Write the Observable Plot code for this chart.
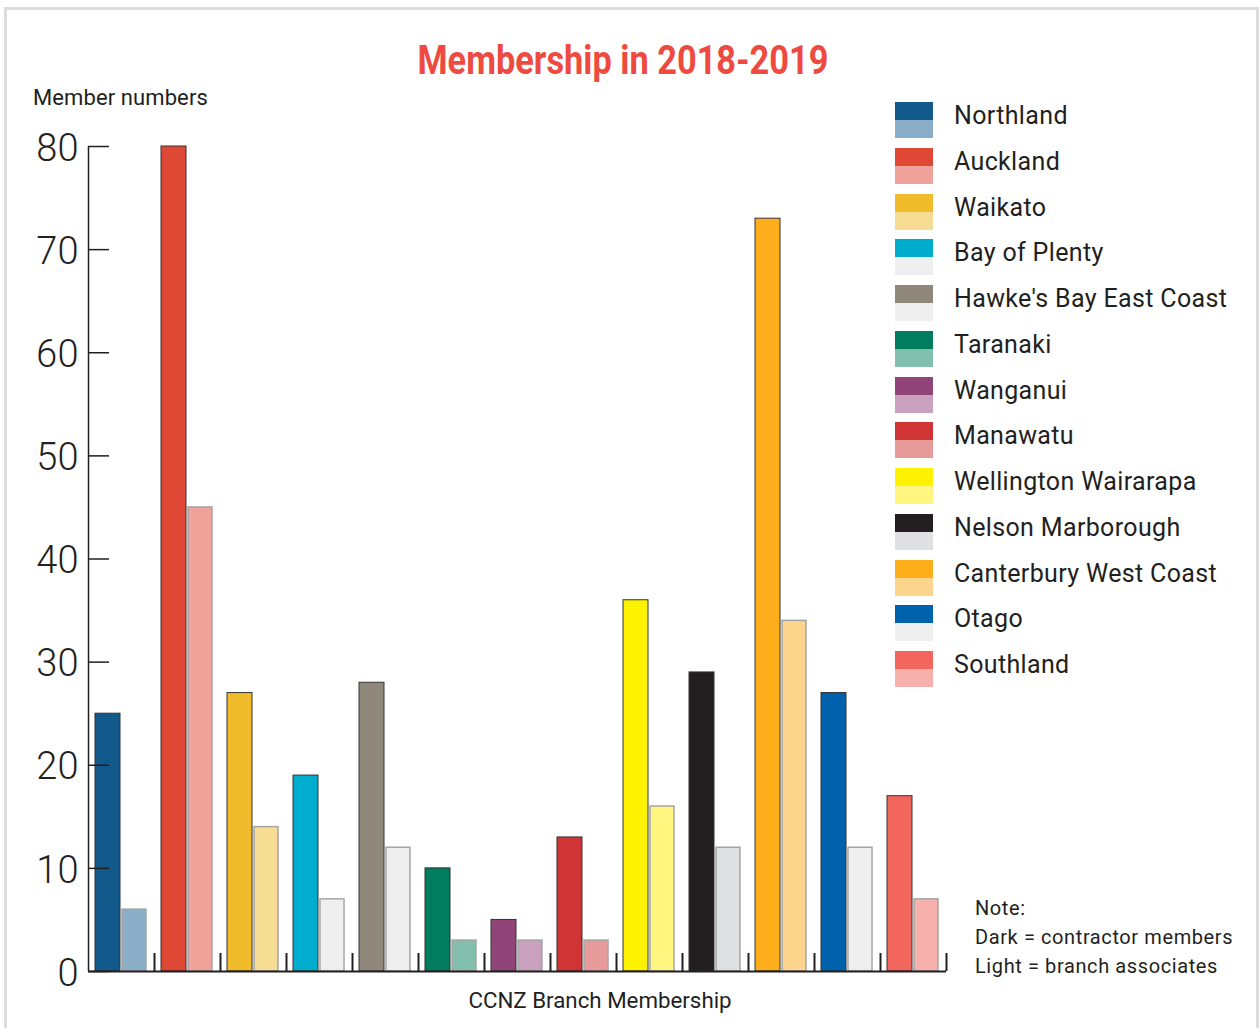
<!DOCTYPE html>
<html>
<head>
<meta charset="utf-8">
<script src="https://cdn.jsdelivr.net/npm/d3@7"></script>
<script src="https://cdn.jsdelivr.net/npm/@observablehq/plot@0.6"></script>
<style>
  html, body { margin: 0; padding: 0; background: #fff; }
  body { width: 1260px; height: 1028px; position: relative; overflow: hidden; font-family: Roboto, "Noto Sans", sans-serif; color: #231f20; }
  #frame { position: absolute; left: 4px; top: 7px; width: 1255px; height: 1040px; border: 3px solid #dcdcdc; box-sizing: border-box; }
  #chart { position: absolute; left: 0; top: 0; }
  .abs { position: absolute; white-space: nowrap; line-height: 1; }
  #ylabel { left: 33px; top: 87px; font-size: 22px; letter-spacing: 0.1px; }
  #xlabel { left: 0; width: 1200px; text-align: center; top: 989px; font-size: 22.3px; }
  #note { left: 975px; top: 894px; font-size: 20px; line-height: 29px; letter-spacing: 0.6px; }
  #legend { position: absolute; left: 895px; top: 102px; }
  .row { position: absolute; left: 0; height: 36px; }
  .sw { position: absolute; left: 0; width: 38px; height: 18px; }
  .lab { position: absolute; left: 59px; top: 1px; font-size: 25px; line-height: 25px; white-space: nowrap; letter-spacing: 0.35px; }
  svg [aria-label="y-axis tick label"] { font-size: 38px; font-weight: 300; }
</style>
</head>
<body>
<div id="frame"></div>
<div id="chart"></div>
<svg id="title" class="abs" style="left:0;top:0" width="1260" height="100">
  <text x="623" y="74" text-anchor="middle" font-family="Roboto" font-weight="700" font-size="41" fill="#ef4a3f" textLength="411" lengthAdjust="spacingAndGlyphs">Membership in 2018-2019</text>
</svg>
<div id="ylabel" class="abs">Member numbers</div>
<div id="xlabel" class="abs">CCNZ Branch Membership</div>
<div id="note" class="abs">Note:<br>Dark = contractor members<br>Light = branch associates</div>
<div id="legend"></div>
<script>
const branches = ["Northland", "Auckland", "Waikato", "Bay of Plenty", "Hawke's Bay East Coast", "Taranaki", "Wanganui", "Manawatu", "Wellington Wairarapa", "Nelson Marborough", "Canterbury West Coast", "Otago", "Southland"];
const contractors = [25, 80, 27, 19, 28, 10, 5, 13, 36, 29, 73, 27, 17];
const associates = [6, 45, 14, 7, 12, 3, 3, 3, 16, 12, 34, 12, 7];
const darkColors = ["#135a8c", "#e04836", "#f0bc2b", "#00adcc", "#8f887a", "#007d5f", "#904477", "#d03434", "#fff200", "#231f20", "#fdae1a", "#0061ad", "#f2665d"];
const lightColors = ["#8aaec8", "#f0a39a", "#f7dc94", "#efefef", "#efefef", "#82bfae", "#c9a0bd", "#e69a9a", "#fff57f", "#dfe0e1", "#fdd58c", "#efefef", "#f7b0ab"];
const yTicks = [0, 10, 20, 30, 40, 50, 60, 70, 80];

const data = branches.map((b, i) => ({branch: b, i, dark: contractors[i], light: associates[i], darkColor: darkColors[i], lightColor: lightColors[i]}));

const W = 1260, H = 1028, mL = 88, mR = 314, mT = 146, mB = 57;
const plotW = W - mL - mR, plotH = H - mT - mB;
const band = plotW / branches.length;

const chart = Plot.plot({
  width: W, height: H,
  marginLeft: mL, marginRight: mR, marginTop: mT, marginBottom: mB,
  style: {background: "transparent", fontFamily: "Roboto, sans-serif", color: "#231f20"},
  x: {type: "linear", domain: [0, branches.length], axis: null},
  y: {domain: [0, 80], axis: null},
  color: {type: "identity"},
  marks: [
    Plot.rect(data, {x1: "i", x2: d => d.i + 1, y1: 0, y2: "dark", fill: "darkColor", stroke: "#333", strokeWidth: 1, insetLeft: 7, insetRight: band - 32}),
    Plot.rect(data, {x1: "i", x2: d => d.i + 1, y1: 0, y2: "light", fill: "lightColor", stroke: "#a5a5a5", strokeWidth: 1.5, insetLeft: 34, insetRight: 8}),
    Plot.ruleX(d3.range(1, branches.length + 1), {stroke: "#231f20", strokeWidth: 2, insetTop: plotH - 18}),
    Plot.tickY(yTicks, {stroke: "#231f20", strokeWidth: 1.5, insetRight: plotW - 21}),
    Plot.ruleX([0], {stroke: "#231f20", strokeWidth: 1.5}),
    Plot.ruleY([0], {stroke: "#231f20", strokeWidth: 2}),
    Plot.axisY({ticks: yTicks, tickSize: 0, tickPadding: 10, dy: 2, fontSize: 38, fontWeight: 300, fill: "#231f20", label: null})
  ]
});
document.getElementById("chart").appendChild(chart);

const legend = document.getElementById("legend");
branches.forEach((b, i) => {
  const row = document.createElement("div");
  row.className = "row";
  row.style.top = (i * 45.75) + "px";
  row.innerHTML = `<div class="sw" style="top:0;background:${darkColors[i]}"></div><div class="sw" style="top:18px;background:${lightColors[i]}"></div><div class="lab">${b}</div>`;
  legend.appendChild(row);
});
</script>
</body>
</html>
